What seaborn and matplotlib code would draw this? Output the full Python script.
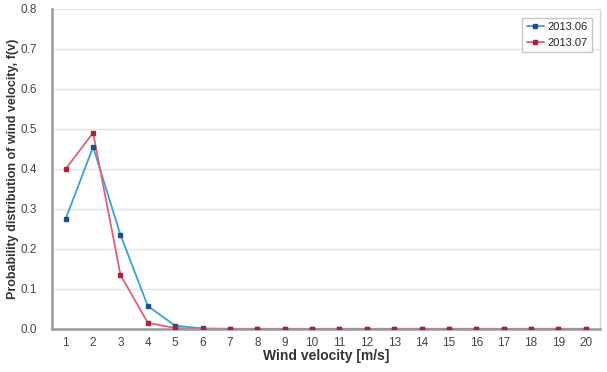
import matplotlib
matplotlib.use("Agg")
import matplotlib.pyplot as plt
import seaborn as sns
import pandas as pd
import numpy as np
from matplotlib.lines import Line2D

velocity = list(range(1, 21))
jun_2013 = [0.275, 0.455, 0.235, 0.057, 0.008, 0.001] + [0.0] * 14
jul_2013 = [0.400, 0.490, 0.135, 0.015, 0.002, 0.0] + [0.0] * 14
series_names = ["2013.06", "2013.07"]
y_ticks = [0.0, 0.1, 0.2, 0.3, 0.4, 0.5, 0.6, 0.7, 0.8]

df = pd.DataFrame({
    "v": velocity * 2,
    "f": jun_2013 + jul_2013,
    "series": [series_names[0]] * 20 + [series_names[1]] * 20,
})

sns.set_style("white")
plt.rcParams['font.family'] = ['Liberation Sans', 'DejaVu Sans']

fig = plt.figure(figsize=(6.07, 3.72), dpi=100)
ax = fig.add_axes([0.0857, 0.116, 0.902, 0.86])

line_colors = {"2013.06": "#3aa0dc", "2013.07": "#e0607a"}
marker_colors = {"2013.06": "#1f4e8c", "2013.07": "#b0203c"}

sns.lineplot(data=df, x="v", y="f", hue="series", palette=line_colors,
             ax=ax, linewidth=1.3, legend=False)
for name in series_names:
    sub = df[df["series"] == name]
    ax.plot(sub["v"], sub["f"], linestyle="none", marker="s", markersize=3.5,
            color=marker_colors[name], zorder=3)

ax.set_xlim(0.5, 20.5)
ax.set_ylim(0, 0.8)
ax.set_yticks(y_ticks)
ax.set_yticklabels([f"{t:.1f}" for t in y_ticks], fontsize=8.5, color="#444444")
ax.set_xticks(velocity)
ax.set_xticklabels([str(v) for v in velocity], fontsize=8.5, color="#444444")
ax.set_xticks(np.arange(1.5, 20.5, 1), minor=True)
ax.tick_params(axis="x", which="major", length=0, pad=6)
ax.tick_params(axis="x", which="minor", length=3, color="#888888", direction="out")
ax.tick_params(axis="y", length=3, color="#888888", direction="out", pad=8)
ax.grid(axis="y", color="#e3e3e3", linewidth=1)
ax.set_axisbelow(True)

for s in ["left", "bottom"]:
    ax.spines[s].set_color("#999999")
    ax.spines[s].set_linewidth(1.8)
ax.spines["right"].set_color("#d8d8d8")
ax.spines["right"].set_linewidth(1)
ax.spines["top"].set_visible(False)

ax.set_xlabel("Wind velocity [m/s]", fontsize=10, fontweight="bold", color="#333333", labelpad=0)
ax.set_ylabel("Probability distribution of wind velocity, f(v)", fontsize=9, fontweight="bold",
              color="#333333", labelpad=1)

handles = [Line2D([0], [0], color=line_colors[n], marker="s", markersize=3.5,
                  markerfacecolor=marker_colors[n], markeredgecolor=marker_colors[n], linewidth=1.3)
           for n in series_names]
leg = ax.legend(handles, series_names, loc="upper right", bbox_to_anchor=(0.997, 0.99),
                fontsize=8, frameon=True, fancybox=False, handlelength=1.6,
                handletextpad=0.3, borderpad=0.4, labelspacing=0.5)
leg.get_frame().set_edgecolor("#bbbbbb")
leg.get_frame().set_linewidth(1)

fig.savefig("out.png", dpi=100)
